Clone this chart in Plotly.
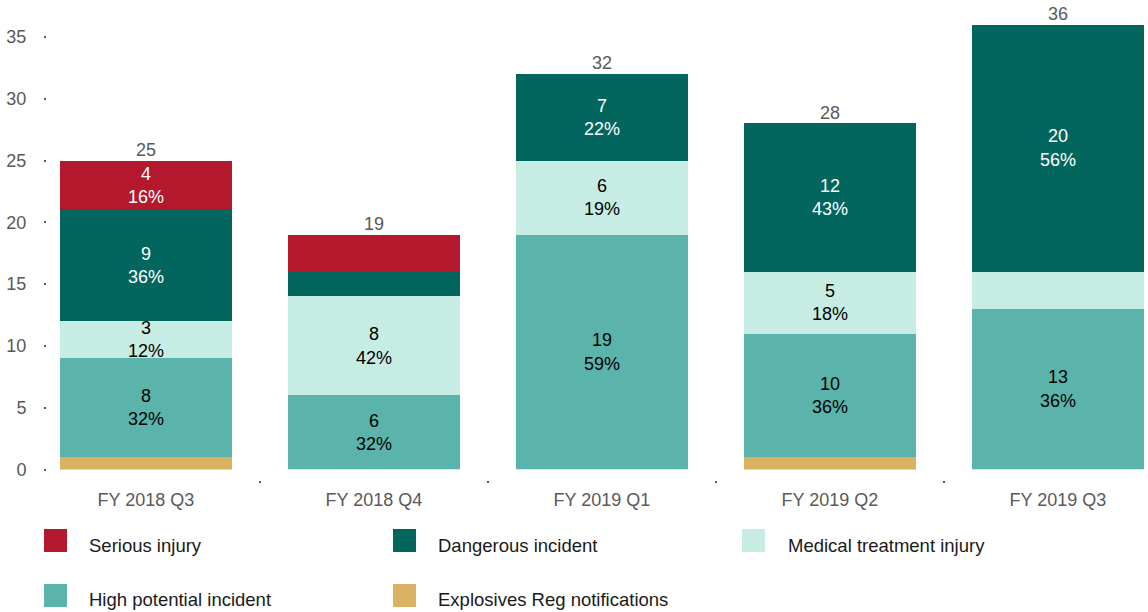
import plotly.graph_objects as go

# ---------------- data ----------------
categories = ["FY 2018 Q3", "FY 2018 Q4", "FY 2019 Q1", "FY 2019 Q2", "FY 2019 Q3"]

explosives = [1, 0, 0, 1, 0]
high_potential = [8, 6, 19, 10, 13]
medical = [3, 8, 6, 5, 3]
dangerous = [9, 2, 7, 12, 20]
serious = [4, 3, 0, 0, 0]

# which segments carry a "value / percent" label
show_explosives = [False, False, False, False, False]
show_high_potential = [True, True, True, True, True]
show_medical = [True, True, True, True, False]
show_dangerous = [True, False, True, True, True]
show_serious = [True, False, False, False, False]

series_names = ["Serious injury", "Dangerous incident", "Medical treatment injury",
                "High potential incident", "Explosives Reg notifications"]

# ---------------- styling ----------------
COLORS = {
    "Serious injury": "#B3182D",
    "Dangerous incident": "#02665E",
    "Medical treatment injury": "#C7ECE4",
    "High potential incident": "#5AB4AB",
    "Explosives Reg notifications": "#D9B263",
}
TEXT_COLORS = {
    "Serious injury": "white",
    "Dangerous incident": "white",
    "Medical treatment injury": "black",
    "High potential incident": "black",
    "Explosives Reg notifications": "black",
}
FONT = "Liberation Sans, Arial, sans-serif"
GREY = "#595959"

W, H = 1148, 612
M_L, M_R, M_T, M_B = 47, 0, 6, 132
PAPER_W = W - M_L - M_R
PAPER_H = H - M_T - M_B

totals = [sum(v) for v in zip(explosives, high_potential, medical, dangerous, serious)]


def labels(values, show):
    out = []
    for v, s, t in zip(values, show, totals):
        out.append(f"{v}<br>{round(v / t * 100)}%" if (s and v) else "")
    return out


stack = [
    ("Explosives Reg notifications", explosives, show_explosives),
    ("High potential incident", high_potential, show_high_potential),
    ("Medical treatment injury", medical, show_medical),
    ("Dangerous incident", dangerous, show_dangerous),
    ("Serious injury", serious, show_serious),
]

fig = go.Figure()
for name, vals, show in stack:
    fig.add_trace(go.Bar(
        x=categories, y=vals, name=name,
        marker=dict(color=COLORS[name], line=dict(width=0)),
        text=labels(vals, show), textposition="inside", insidetextanchor="middle",
        textangle=0, constraintext="none",
        textfont=dict(family=FONT, size=18, color=TEXT_COLORS[name]),
        showlegend=False, hoverinfo="x+y+name",
    ))

fig.add_trace(go.Scatter(
    x=categories, y=totals, mode="text", text=[str(t) for t in totals],
    textposition="top center", textfont=dict(family=FONT, size=18, color=GREY),
    showlegend=False, cliponaxis=False, hoverinfo="skip",
))


# ---------------- custom legend (large square keys) ----------------
def fx(px):
    return (px - M_L) / PAPER_W


def fy(py):
    return (H - M_B - py) / PAPER_H


legend_cols_marker = [44, 393, 742]
legend_cols_text = [87, 436, 786]
legend_rows_marker = [529, 584]
legend_rows_text = [545, 599]
KEY = 23

shapes = []
annotations = []
for i, name in enumerate(series_names):
    r, c = divmod(i, 3)
    x0 = legend_cols_marker[c]
    y0 = legend_rows_marker[r]
    shapes.append(dict(type="rect", xref="paper", yref="paper",
                       x0=fx(x0), x1=fx(x0 + KEY), y0=fy(y0 + KEY), y1=fy(y0),
                       fillcolor=COLORS[name], line=dict(width=0)))
    annotations.append(dict(xref="paper", yref="paper", x=fx(legend_cols_text[c]),
                            y=fy(legend_rows_text[r]), xanchor="left", yanchor="middle",
                            text=name, showarrow=False,
                            font=dict(family=FONT, size=18.5, color="#1a1a1a")))

zero_px = 469.5
fig.update_layout(
    width=W, height=H,
    margin=dict(l=M_L, r=M_R, t=M_T, b=M_B, autoexpand=False),
    barmode="stack", bargap=0.246,
    plot_bgcolor="white", paper_bgcolor="white",
    font=dict(family=FONT, size=18, color=GREY),
    shapes=shapes, annotations=annotations,
    xaxis=dict(
        type="category", range=[-0.434, 4.395],
        anchor="free", position=0,
        showgrid=False, zeroline=False, showline=False,
        ticks="outside", tickson="boundaries", ticklen=2, tickwidth=2, tickcolor=GREY,
        ticklabelstandoff=7,
        tickfont=dict(family=FONT, size=18, color=GREY),
    ),
    yaxis=dict(
        domain=[(H - M_B - zero_px) / PAPER_H, 1],
        range=[0, (zero_px - M_T) / 12.36],
        tickvals=[0, 5, 10, 15, 20, 25, 30, 35],
        showgrid=False, zeroline=False, showline=False,
        ticks="outside", ticklen=2, tickwidth=2, tickcolor=GREY,
        ticklabelstandoff=14,
        tickfont=dict(family=FONT, size=18, color=GREY),
    ),
)

fig.write_html(
    "out.html",
    config={"displayModeBar": False},
    post_script="document.body.style.margin='0px';document.body.style.overflow='hidden';",
)
